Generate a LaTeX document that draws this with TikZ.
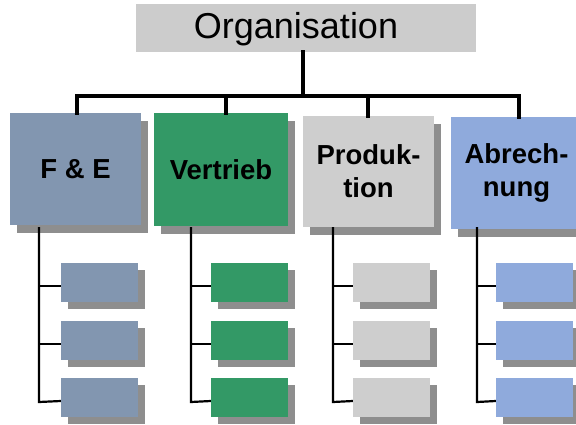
\documentclass[tikz,border=0pt]{standalone}
\usepackage{fontspec}
\setmainfont{Liberation Sans}
\usetikzlibrary{shadows}
\definecolor{topgray}{HTML}{CCCCCC}
\definecolor{feblue}{HTML}{8296B0}
\definecolor{vgreen}{HTML}{339966}
\definecolor{pgray}{HTML}{CECECE}
\definecolor{ablue}{HTML}{8FAADC}
\definecolor{shadowgray}{HTML}{8E8E8E}
\tikzset{
  headbox/.style={fill=topgray, draw=none, minimum width=340pt, minimum height=48pt,
    inner sep=0pt},
  headtext/.style={inner sep=0pt, font=\fontsize{36}{40}\selectfont},
  deptbox/.style={draw=none, minimum width=131pt, minimum height=112pt, inner sep=0pt,
    align=center, font=\bfseries\fontsize{27.5}{33}\selectfont,
    drop shadow={shadow xshift=7pt, shadow yshift=-8pt, fill=shadowgray, opacity=1}},
  subbox/.style={draw=none, minimum width=77pt, minimum height=39pt, inner sep=0pt,
    drop shadow={shadow xshift=7pt, shadow yshift=-7pt, fill=shadowgray, opacity=1}},
  mainline/.style={line width=3.8pt, line cap=rect},
  subline/.style={line width=2.2pt},
}
\begin{document}
\begin{tikzpicture}[x=1pt, y=-1pt]
  \useasboundingbox (0,0) rectangle (576,424);

  % head of the organisation chart, title set a little left of centre
  \node[headbox] (org) at (306,28) {};
  \node[headtext] (orgtitle) at (296,29) {Organisation};

  % departments
  \node[deptbox, fill=feblue]  (fe)  at (75.5,169)  {F \& E};
  \node[deptbox, fill=vgreen, minimum width=134pt, minimum height=113pt] (vt) at (221,169.5) {Vertrieb};
  \node[deptbox, fill=pgray, minimum height=111pt]  (pr)  at (368.5,171.5) {Produk-\\tion};
  \node[deptbox, fill=ablue]   (ab)  at (516.5,173)  {Abrech-\\nung};

  % sub units per department
  \foreach \n/\x/\c in {fe/99.5/feblue, vt/249.5/vgreen, pr/391.5/pgray, ab/534.5/ablue}{
    \node[subbox, fill=\c] (\n1) at (\x,282.5) {};
    \node[subbox, fill=\c] (\n2) at (\x,340.5) {};
    \node[subbox, fill=\c] (\n3) at (\x,397.5) {};
  }

  % upper connector tree
  \coordinate (stem) at (303,96);
  \coordinate (jfe) at (77,96);
  \coordinate (jvt) at (226,96);
  \coordinate (jpr) at (368,96);
  \coordinate (jab) at (519,96);
  \draw[mainline] (org.south -| stem) -- (stem);
  \draw[mainline] (jfe) -- (jab);
  \draw[mainline] (jfe) -- (fe.north -| jfe);
  \draw[mainline] (jvt) -- (vt.north -| jvt);
  \draw[mainline] (jpr) -- (pr.north -| jpr);
  \draw[mainline] (jab) -- (ab.north -| jab);

  % lower connector trees
  \foreach \n/\x in {fe/39, vt/191, pr/333, ab/477}{
    \coordinate (\n top) at (\x,227);
    \draw[subline] (\n top) -- (\x,402) -- ([yshift=-3.5pt]\n3.west);
    \draw[subline] (\x,286) -- ([yshift=-3.5pt]\n1.west);
    \draw[subline] (\x,344) -- ([yshift=-3.5pt]\n2.west);
  }
\end{tikzpicture}
\end{document}
